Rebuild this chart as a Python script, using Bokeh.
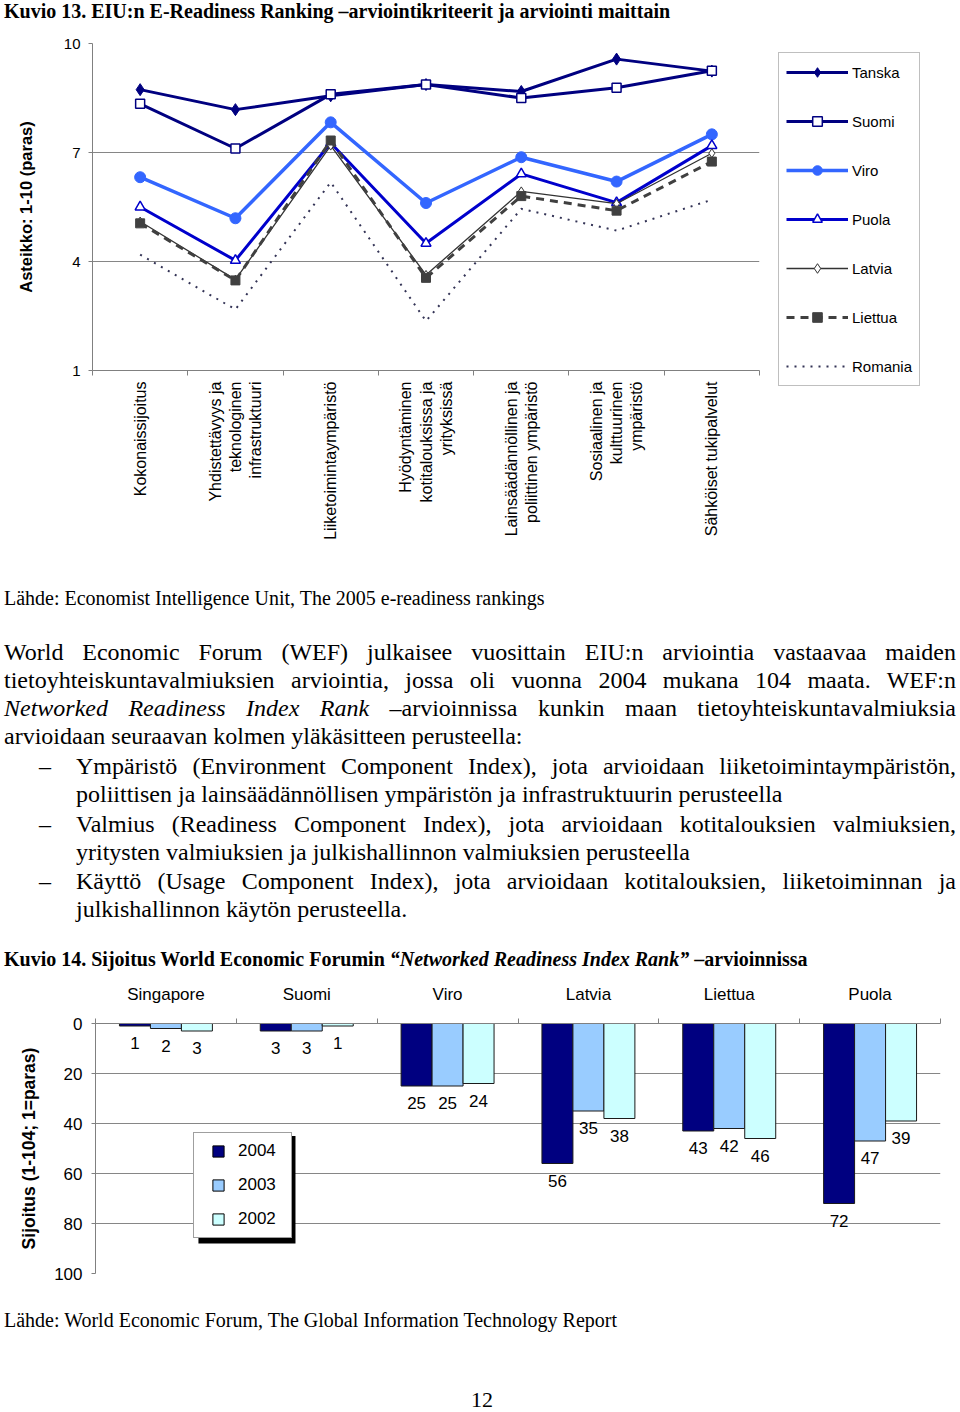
import numpy as np
from bokeh.plotting import figure
from bokeh.models import (Range1d, FixedTicker, Legend, LegendItem, Div, BoxAnnotation)
from bokeh.embed import file_html
from bokeh.resources import INLINE
from bokeh.core.properties import value

# ---------------- Kuvio 13 data ----------------
criteria = [
    "Kokonaissijoitus",
    "Yhdistettävyys ja\nteknologinen\ninfrastruktuuri",
    "Liiketoimintaympäristö",
    "Hyödyntäminen\nkotitalouksissa ja\nyrityksissä",
    "Lainsäädännöllinen ja\npoliittinen ympäristö",
    "Sosiaalinen ja\nkulttuurinen\nympäristö",
    "Sähköiset tukipalvelut",
]
tanska = [8.73, 8.18, 8.56, 8.87, 8.68, 9.57, 9.24]
suomi = [8.34, 7.11, 8.60, 8.87, 8.50, 8.78, 9.25]
viro = [6.32, 5.19, 7.83, 5.61, 6.87, 6.20, 7.50]
puola = [5.50, 4.03, 7.26, 4.50, 6.41, 5.62, 7.19]
latvia = [5.10, 3.50, 7.19, 3.63, 5.93, 5.59, 6.98]
liettua = [5.05, 3.48, 7.33, 3.55, 5.80, 5.40, 6.75]
romania = [4.19, 2.68, 6.18, 2.36, 5.45, 4.85, 5.70]
scale_ticks = [1, 4, 7, 10]

# ---------------- Kuvio 14 data ----------------
countries = ["Singapore", "Suomi", "Viro", "Latvia", "Liettua", "Puola"]
years = ["2004", "2003", "2002"]
rank_2004 = [1, 3, 25, 56, 43, 72]
rank_2003 = [2, 3, 25, 35, 42, 47]
rank_2002 = [3, 1, 24, 38, 46, 39]
rank_ticks = [0, 20, 40, 60, 80, 100]

SANS = "Liberation Sans"
SERIF = "Liberation Serif"
W = 960

# ======================= Figure 1 =======================
p1 = figure(frame_width=667, frame_height=327, x_range=Range1d(0.5, 7.5), y_range=Range1d(1, 10),
            output_backend="svg", toolbar_location=None,
            min_border_left=92, min_border_right=201, min_border_top=13, min_border_bottom=205)
p1.outline_line_color = None
p1.xgrid.visible = False
p1.ygrid.grid_line_color = "#868686"
p1.ygrid.grid_line_width = 1

ya = p1.yaxis[0]
ya.ticker = FixedTicker(ticks=scale_ticks)
ya.axis_label = "Asteikko: 1-10 (paras)"
ya.axis_label_text_font = SANS
ya.axis_label_text_font_style = "bold"
ya.axis_label_text_font_size = "16.5px"
ya.axis_label_text_color = "black"
ya.axis_label_standoff = 26
ya.major_label_text_font = SANS
ya.major_label_text_font_size = "15px"
ya.major_label_text_color = "black"
ya.major_label_standoff = 8
ya.major_tick_out = 4
ya.major_tick_in = 0
ya.minor_tick_line_color = None
ya.axis_line_color = "#808080"
ya.major_tick_line_color = "#808080"

xa = p1.xaxis[0]
cat_pos = list(range(1, len(criteria) + 1))
xa.ticker = FixedTicker(ticks=cat_pos, minor_ticks=[c - 0.5 for c in cat_pos] + [cat_pos[-1] + 0.5])
xa.major_label_overrides = {c: lab for c, lab in zip(cat_pos, criteria)}
xa.major_label_orientation = np.pi / 2
xa.major_tick_in = 0
xa.major_tick_out = 0
xa.minor_tick_in = 0
xa.minor_tick_out = 5
xa.axis_line_color = "#808080"
xa.minor_tick_line_color = "#808080"
xa.major_label_text_font = SANS
xa.major_label_text_font_size = "16px"
xa.major_label_text_color = "black"
xa.major_label_standoff = 6

series = [
    ("Tanska", tanska, dict(color="#000080", lw=3, dash="solid", marker="diamond", size=12, fill="#000080", mlw=1)),
    ("Suomi", suomi, dict(color="#000080", lw=3, dash="solid", marker="square", size=9, fill="white", mlw=1.5)),
    ("Viro", viro, dict(color="#3366FF", lw=3.5, dash="solid", marker="circle", size=11, fill="#3366FF", mlw=1)),
    ("Puola", puola, dict(color="#0000CC", lw=3, dash="solid", marker="triangle", size=10, fill="white", mlw=1.5)),
    ("Latvia", latvia, dict(color="#333333", lw=1.3, dash="solid", marker="diamond", size=9, fill="white", mlw=1)),
    ("Liettua", liettua, dict(color="#404040", lw=3, dash="8 6", marker="square", size=9, fill="#404040", mlw=1)),
    ("Romania", romania, dict(color="#333355", lw=2, dash="2 6", marker=None, size=0, fill=None, mlw=1)),
]
items1 = []
for name, vals, st in series:
    rs = [p1.line(cat_pos, vals, line_color=st["color"], line_width=st["lw"], line_dash=st["dash"])]
    if st["marker"]:
        rs.append(p1.scatter(cat_pos, vals, marker=st["marker"], size=st["size"],
                             fill_color=st["fill"], line_color=st["color"], line_width=st["mlw"]))
    items1.append(LegendItem(label=name, renderers=rs))

leg1 = Legend(items=items1, location=(19, -16), orientation="vertical",
              glyph_width=62, glyph_height=24, label_height=24, label_standoff=4,
              spacing=25, padding=7, margin=0,
              label_text_font=SANS, label_text_font_size="15px", label_text_color="black",
              border_line_color="#808080", border_line_width=1,
              background_fill_color="white", background_fill_alpha=1)
p1.add_layout(leg1, "right")

# ======================= Figure 2 =======================
p2 = figure(frame_width=845, frame_height=250, x_range=Range1d(-0.5, 5.5), y_range=Range1d(100, 0),
            x_axis_location="above", output_backend="svg", toolbar_location=None,
            min_border_left=95, min_border_right=20, min_border_top=48, min_border_bottom=22)
p2.outline_line_color = None
p2.xgrid.visible = False
p2.ygrid.grid_line_color = "#868686"

ya2 = p2.yaxis[0]
ya2.ticker = FixedTicker(ticks=rank_ticks)
ya2.axis_label = "Sijoitus (1-104; 1=paras)"
ya2.axis_label_text_font = SANS
ya2.axis_label_text_font_style = "bold"
ya2.axis_label_text_font_size = "17.5px"
ya2.axis_label_text_color = "black"
ya2.axis_label_standoff = 12
ya2.major_label_text_font = SANS
ya2.major_label_text_font_size = "17px"
ya2.major_label_text_color = "black"
ya2.major_label_standoff = 9
ya2.major_tick_out = 4
ya2.major_tick_in = 0
ya2.minor_tick_line_color = None
ya2.axis_line_color = "#808080"
ya2.major_tick_line_color = "#808080"

xa2 = p2.xaxis[0]
grp = list(range(len(countries)))
xa2.ticker = FixedTicker(ticks=grp, minor_ticks=[g - 0.5 for g in grp] + [grp[-1] + 0.5])
xa2.major_label_overrides = {g: c for g, c in zip(grp, countries)}
xa2.major_tick_in = 0
xa2.major_tick_out = 0
xa2.minor_tick_in = 0
xa2.minor_tick_out = 5
xa2.axis_line_color = "#808080"
xa2.minor_tick_line_color = "#808080"
xa2.major_label_text_font = SANS
xa2.major_label_text_font_size = "17px"
xa2.major_label_text_color = "black"
xa2.major_label_standoff = 15

bar_colors = ["#000080", "#99CCFF", "#CCFFFF"]
offsets = [-0.22, 0.0, 0.22]
ranks = [rank_2004, rank_2003, rank_2002]
for vals, col, off in zip(ranks, bar_colors, offsets):
    xs = [g + off for g in grp]
    p2.vbar(x=xs, top=vals, bottom=0, width=0.22, fill_color=col, line_color="#1a1a1a", line_width=1)
    p2.text(x=xs, y=vals, text=[str(v) for v in vals], text_align="center", text_baseline="top",
            y_offset=11, text_font=value(SANS), text_font_size="17px", text_color="black")

# legend shadow
p2.add_layout(BoxAnnotation(left=0.231, right=0.920, top=45, bottom=88,
                            fill_color="black", fill_alpha=1, line_color=None))
items2 = []
for yr, col in zip(years, bar_colors):
    proxy = p2.scatter(x=np.array([np.nan]), y=np.array([np.nan]), marker="square",
                       fill_color=col, line_color="black", line_width=1)
    items2.append(LegendItem(label=yr, renderers=[proxy]))
leg2 = Legend(items=items2, location=(98, 35), orientation="vertical",
              glyph_width=40, glyph_height=28, label_height=28, label_standoff=0,
              label_width=49, spacing=6, padding=4, margin=0,
              label_text_font=SANS, label_text_font_size="17px", label_text_color="black",
              border_line_color="#404040", border_line_width=1,
              background_fill_color="white", background_fill_alpha=1)
p2.add_layout(leg2, "center")

# ======================= Text blocks =======================
def line(top, text, left=4, size=24, lh=28, justify=True, extra=""):
    ta = "text-align:justify;text-align-last:justify;" if justify else "text-align:left;white-space:nowrap;"
    return (f'<div style="position:absolute;left:{left}px;top:{top}px;width:{956 - left}px;'
            f'font-family:\'{SERIF}\';font-size:{size}px;line-height:{lh}px;color:black;{ta}{extra}">{text}</div>')

title13 = ('<div style="position:relative;width:960px;height:30px;">'
           + line(0, "Kuvio 13. EIU:n E-Readiness Ranking –arviointikriteerit ja arviointi maittain",
                  size=20, lh=22, justify=False, extra="font-weight:bold;")
           + '</div>')

dash = "–"
body = ['<div style="position:relative;width:960px;height:400px;">']
body.append(line(12, "Lähde: Economist Intelligence Unit, The 2005 e-readiness rankings", size=20, lh=22, justify=False))
body.append(line(63, "World Economic Forum (WEF) julkaisee vuosittain EIU:n arviointia vastaavaa maiden"))
body.append(line(91, "tietoyhteiskuntavalmiuksien arviointia, jossa oli vuonna 2004 mukana 104 maata. WEF:n"))
body.append(line(119, "<i>Networked Readiness Index Rank</i> –arvioinnissa kunkin maan tietoyhteiskuntavalmiuksia"))
body.append(line(147, "arvioidaan seuraavan kolmen yläkäsitteen perusteella:", justify=False))
bullets = [
    (177, "Ympäristö (Environment Component Index), jota arvioidaan liiketoimintaympäristön,",
     205, "poliittisen ja lainsäädännöllisen ympäristön ja infrastruktuurin perusteella"),
    (235, "Valmius (Readiness Component Index), jota arvioidaan kotitalouksien valmiuksien,",
     263, "yritysten valmiuksien ja julkishallinnon valmiuksien perusteella"),
    (292, "Käyttö (Usage Component Index), jota arvioidaan kotitalouksien, liiketoiminnan ja",
     320, "julkishallinnon käytön perusteella."),
]
for t1, l1, t2, l2 in bullets:
    body.append(line(t1, dash, left=39, justify=False))
    body.append(line(t1, l1, left=76))
    body.append(line(t2, l2, left=76, justify=False))
body.append(line(373, 'Kuvio 14. Sijoitus World Economic Forumin <i>“Networked Readiness Index Rank”</i> –arvioinnissa',
                 size=20, lh=22, justify=False, extra="font-weight:bold;"))
body.append('</div>')

foot = ('<div style="position:relative;width:960px;height:115px;">'
        + line(14, "Lähde: World Economic Forum, The Global Information Technology Report", size=20, lh=22, justify=False)
        + f'<div style="position:absolute;left:2px;top:94px;width:{W}px;text-align:center;font-family:\'{SERIF}\';'
          f'font-size:22px;line-height:22px;color:black;">12</div>'
        + '</div>')

div0 = Div(text=title13, width=W, height=30, margin=0)
div1 = Div(text="".join(body), width=W, height=400, margin=0)
div2 = Div(text=foot, width=W, height=115, margin=0)

open("out.html", "w").write(file_html([div0, p1, div1, p2, div2], INLINE))
